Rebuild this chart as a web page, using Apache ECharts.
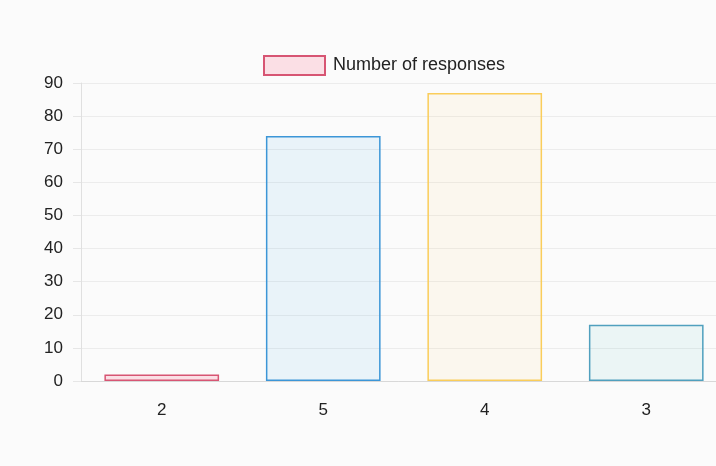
<!DOCTYPE html>
<html>
<head>
<meta charset="utf-8">
<script src="https://cdn.jsdelivr.net/npm/echarts@6/dist/echarts.min.js"></script>
<style>
html,body{margin:0;padding:0;background:#fbfbfb;}
#c{width:716px;height:466px;}
</style>
</head>
<body>
<div id="c"></div>
<script>
const categories = ['2', '5', '4', '3'];
const responses = [2, 74, 87, 17];
const seriesName = 'Number of responses';
const fillColors = ['rgba(255,99,132,0.18)', 'rgba(54,162,235,0.09)', 'rgba(255,206,86,0.08)', 'rgba(75,192,192,0.09)'];
const borderColors = ['rgb(215,85,115)', 'rgb(60,150,215)', 'rgb(250,205,90)', 'rgb(80,160,190)'];

const chart = echarts.init(document.getElementById('c'));
chart.setOption({
  animation: false,
  backgroundColor: '#fbfbfb',
  legend: {
    top: 50,
    left: 258,
    icon: 'rect',
    itemWidth: 61,
    itemHeight: 19,
    data: [seriesName],
    textStyle: { fontFamily: 'Liberation Sans', fontSize: 18, color: '#222', padding: [0, 0, 0, 3] }
  },
  grid: { left: 81, width: 646, top: 83, height: 298, outerBoundsMode: 'none', containLabel: false },
  xAxis: {
    type: 'category',
    data: categories,
    axisLine: { show: true, lineStyle: { color: '#d8d8d8' } },
    axisTick: { show: false },
    axisLabel: { margin: 21, fontFamily: 'Liberation Sans', fontSize: 17, color: '#222' },
    splitLine: { show: false }
  },
  yAxis: {
    type: 'value',
    min: 0,
    max: 90,
    interval: 10,
    axisLine: { show: true, lineStyle: { color: '#e0e0e0' } },
    axisTick: { show: true, length: 8, lineStyle: { color: '#e6e6e6' } },
    axisLabel: { margin: 18, fontFamily: 'Liberation Sans', fontSize: 17, color: '#222' },
    splitLine: { lineStyle: { color: '#ececec' } }
  },
  series: [{
    name: seriesName,
    type: 'bar',
    barWidth: '71%',
    itemStyle: { color: fillColors[0], borderColor: borderColors[0], borderWidth: 1.5 },
    data: responses.map((v, i) => ({
      value: v,
      itemStyle: { color: fillColors[i], borderColor: borderColors[i], borderWidth: 1.5 }
    }))
  }]
});
</script>
</body>
</html>
